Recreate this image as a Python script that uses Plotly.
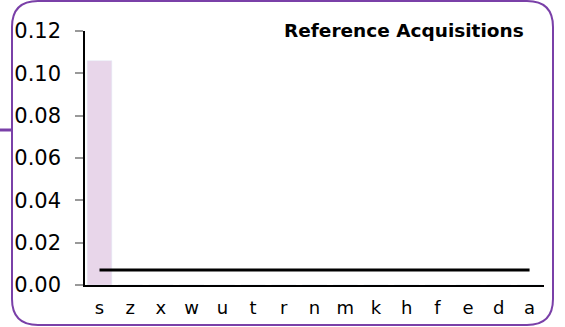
import plotly.graph_objects as go

categories = ["s", "z", "x", "w", "u", "t", "r", "n", "m", "k", "h", "f", "e", "d", "a"]
bar_values = [0.106, 0, 0, 0, 0, 0, 0, 0, 0, 0, 0, 0, 0, 0, 0]
line_values = [0.0071] * len(categories)
y_ticks = [0.00, 0.02, 0.04, 0.06, 0.08, 0.10, 0.12]

W, H = 565, 327
L, R, T, B = 85, 21, 31, 42
PW, PH = W - L - R, H - T - B


def px(x):
    return (x - L) / PW


def py(y):
    return (H - B - y) / PH


def rounded_rect(x0, y0, x1, y1, r):
    # path in paper coords, built from pixel coords
    pts = [
        ("M", x0 + r, y0), ("L", x1 - r, y0), ("Q", x1, y0, x1, y0 + r),
        ("L", x1, y1 - r), ("Q", x1, y1, x1 - r, y1), ("L", x0 + r, y1),
        ("Q", x0, y1, x0, y1 - r), ("L", x0, y0 + r), ("Q", x0, y0, x0 + r, y0),
    ]
    out = []
    for p in pts:
        s = p[0]
        coords = p[1:]
        for i in range(0, len(coords), 2):
            s += " %.5f,%.5f" % (px(coords[i]), py(coords[i + 1]))
        out.append(s)
    return " ".join(out) + " Z"


fig = go.Figure()
fig.add_trace(go.Bar(x=categories, y=bar_values, marker_color="#e8d6ea",
                     width=0.8, showlegend=False))
fig.add_trace(go.Scatter(x=categories, y=line_values, mode="lines",
                         line=dict(color="black", width=3), showlegend=False))

purple = "#7a40a8"
fig.add_shape(type="path", xref="paper", yref="paper",
              path=rounded_rect(12, 1, 553, 325, 26),
              line=dict(color=purple, width=2))
fig.add_shape(type="line", xref="paper", yref="paper",
              x0=px(0), x1=px(12), y0=py(130), y1=py(130),
              line=dict(color=purple, width=3))

fig.add_annotation(text="<b>Reference Acquisitions</b>", xref="paper", yref="paper",
                   x=px(526), y=py(30), xanchor="right", yanchor="middle",
                   showarrow=False, font=dict(family="DejaVu Sans", size=18.5, color="black"))

fig.update_layout(
    width=W, height=H,
    margin=dict(l=L, r=R, t=T, b=B),
    paper_bgcolor="white", plot_bgcolor="white",
    font=dict(family="DejaVu Sans", color="black"),
    xaxis=dict(type="category", range=[-0.472, 14.47], automargin=False,
               showline=True, linecolor="black", linewidth=1.5,
               showgrid=False, ticks="", tickfont=dict(size=18),
               ticklabelstandoff=6),
    yaxis=dict(range=[0, 0.12], tickvals=y_ticks, tickformat=".2f", automargin=False,
               showline=True, linecolor="black", linewidth=1.5,
               showgrid=False, zeroline=False, ticks="outside",
               tickcolor="#999999", ticklen=8, tickwidth=1.5,
               tickfont=dict(size=21), ticklabelstandoff=10),
)

fig.write_html("out.html", config={"displayModeBar": False},
               post_script="document.body.style.margin='0px';")
